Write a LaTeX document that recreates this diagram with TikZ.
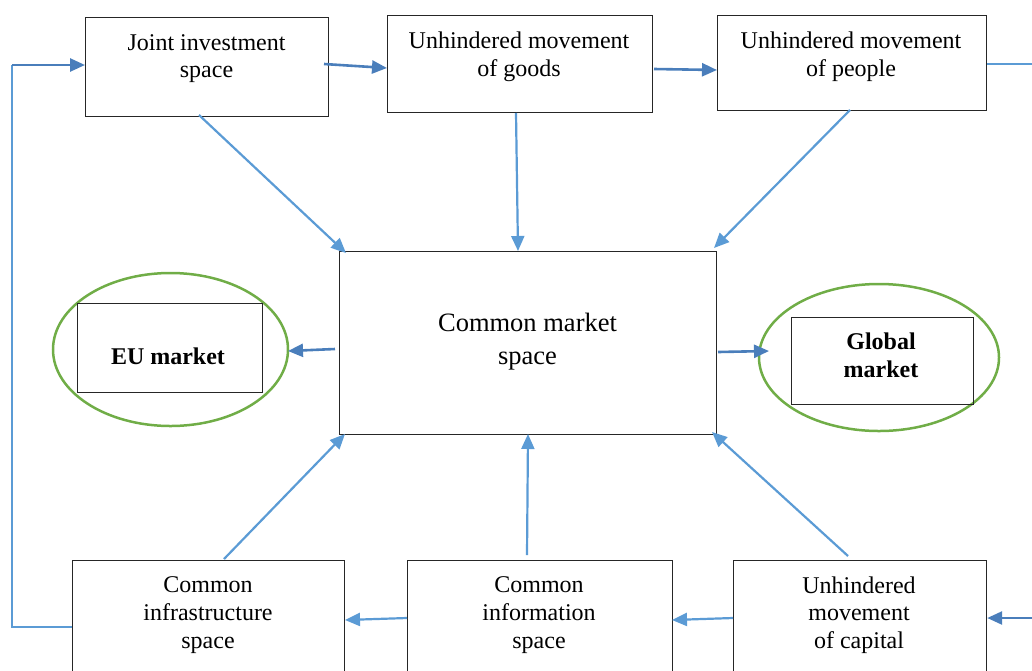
\documentclass[tikz,border=0pt]{standalone}
\usepackage{fontspec}
\setmainfont{Liberation Serif}
\usetikzlibrary{arrows.meta,shapes.geometric}
\definecolor{darkarr}{HTML}{4A7EBB}
\definecolor{lightarr}{HTML}{5B9BD5}
\definecolor{ovalgreen}{HTML}{70AD47}
\tikzset{
  box/.style={draw=black!85, line width=1.2pt, inner sep=0pt},
  txt/.style={align=center, inner sep=0pt, font=\fontsize{24}{27.6}\selectfont},
  btxt/.style={align=center, inner sep=0pt, font=\fontsize{24}{27.6}\selectfont\bfseries},
  oval/.style={draw=ovalgreen, line width=2.5pt, ellipse, inner sep=0pt},
  arrD/.style={draw=darkarr, line width=2.6pt, -{Triangle[length=15pt,width=13pt]}},
  arrL/.style={draw=lightarr, line width=2.2pt, -{Triangle[length=15pt,width=13pt]}},
  thinline/.style={draw=lightarr, line width=1.6pt},
}
\begin{document}
\begin{tikzpicture}[x=1pt,y=-1pt]
\useasboundingbox (0,0) rectangle (1032,670);
\clip (0,0) rectangle (1032,670);
% top boxes
\node[box, minimum width=243, minimum height=99, anchor=north west] (joint) at (85,17) {};
\node[txt] (jointT) at (206.5,58.5) {Joint investment\\space};
\node[box, minimum width=265, minimum height=97, anchor=north west] (goods) at (387,15) {};
\node[txt] (goodsT) at (519,56.5) {Unhindered movement\\of goods};
\node[box, minimum width=269, minimum height=95, anchor=north west] (people) at (717,15) {};
\node[txt] (peopleT) at (851,56.5) {Unhindered movement\\of people};
% centre
\node[box, minimum width=377, minimum height=183, anchor=north west] (center) at (339,251) {};
\node[txt, font=\fontsize{26.5}{33}\selectfont] (centerT) at (527.5,342) {Common market\\space};
% EU
\node[oval, minimum width=235, minimum height=153] (euO) at (170.5,349.5) {};
\node[box, minimum width=185, minimum height=89, anchor=north west] (eu) at (77,303) {};
\node[btxt] (euT) at (168,356) {EU market};
% Global
\node[oval, minimum width=240, minimum height=147] (glO) at (879,357.5) {};
\node[box, minimum width=182, minimum height=87, anchor=north west] (gl) at (791,317) {};
\node[btxt] (glT) at (881,355) {Global\\market};
% bottom boxes
\node[box, minimum width=272, minimum height=130, anchor=north west] (infra) at (72,560) {};
\node[txt] (infraT) at (208,615) {Common\\infrastructure\\space};
\node[box, minimum width=265, minimum height=130, anchor=north west] (info) at (407,560) {};
\node[txt] (infoT) at (539,615) {Common\\information\\space};
\node[box, minimum width=253, minimum height=130, anchor=north west] (cap) at (733,560) {};
\node[txt] (capT) at (859,615) {Unhindered\\movement\\of capital};
% coordinates
\coordinate (fbA) at (12,627);
\coordinate (fbB) at (12,65);
\coordinate (rightOut) at (1034,64);
\coordinate (rightIn) at (1034,618);
% feedback loop
\draw[thinline] (infra.west |- fbA) -- (fbA) -- (fbB);
\draw[arrD] (fbB) -- (joint.west |- fbB);
\draw[thinline] (people.east |- rightOut) -- (rightOut);
\draw[arrD] (rightIn) -- (cap.east |- rightIn);
% top chain
\draw[arrD] (324,64) -- (goods.west |- 0,68);
\draw[arrD] (654,69) -- (people.west |- 0,70);
% bottom chain
\draw[arrL] (cap.west |- 0,618) -- (672,620);
\draw[arrL] (info.west |- 0,618) -- (345,620);
% to centre
\draw[arrL] (199,115) -- (346,253);
\draw[arrL] (516,113) -- (518,251);
\draw[arrL] (850,110) -- (714,248);
\draw[arrL] (224,559) -- (345,434);
\draw[arrL] (527,555) -- (528,434);
\draw[arrL] (848,556) -- (712,432);
% from centre
\draw[arrD] (335,349) -- (288,351);
\draw[arrD] (718,352) -- (769,351);
\end{tikzpicture}
\end{document}
